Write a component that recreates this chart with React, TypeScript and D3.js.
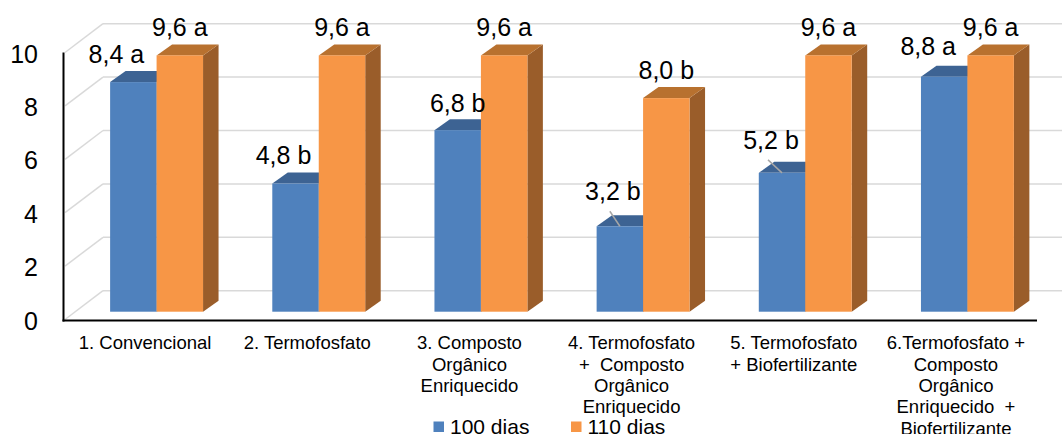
import React from "react";
import * as d3 from "d3";

const categories: string[][] = [
  ["1. Convencional"],
  ["2. Termofosfato"],
  ["3. Composto", "Orgânico", "Enriquecido"],
  ["4. Termofosfato", "+  Composto", "Orgânico", "Enriquecido"],
  ["5. Termofosfato", "+ Biofertilizante"],
  ["6.Termofosfato +", "Composto", "Orgânico", "Enriquecido  +", "Biofertilizante"],
];
const seriesNames = ["100 dias", "110 dias"];
const values100 = [8.6, 4.8, 6.8, 3.2, 5.2, 8.8];
const values110 = [9.6, 9.6, 9.6, 8.0, 9.6, 9.6];
const labels100 = ["8,4 a", "4,8 b", "6,8 b", "3,2 b", "5,2 b", "8,8 a"];
const labels110 = ["9,6 a", "9,6 a", "9,6 a", "8,0 b", "9,6 a", "9,6 a"];
const yTicks = [0, 2, 4, 6, 8, 10];

// layout-only nudges for the data labels of the first series (as placed in the original)
const label100Dx = [-17, -12, 0, -7, -11, -16];
const label100Gap = [8, 9, 7, 15, 13, 11];
const label100Leader = [false, false, false, true, true, false];

const W = 1062;
const H = 434;
const FONT = "'Liberation Sans', Arial, sans-serif";

const colors = {
  front: ["#4F81BD", "#F79646"],
  top: ["#3D6393", "#B8712F"],
  side: ["#3A5E8C", "#9A5D2A"],
};

export default function App() {
  const xL = 64;
  const xR = 1037;
  const baseFront = 320.5; // front plane y of 0
  const barOff = { dx: 11.5, dy: -8.8 }; // bar front face offset from front plane
  const depth = { dx: 15.5, dy: -11 }; // bar depth
  const wallOff = { dx: 39, dy: -29.8 }; // back wall offset

  const x0 = d3
    .scaleBand<number>()
    .domain(d3.range(categories.length))
    .range([xL, xR])
    .paddingInner(0.427)
    .paddingOuter(0.2135);
  const x1 = d3.scaleBand<number>().domain([0, 1]).range([0, x0.bandwidth()]);
  const band = d3.scaleBand<number>().domain(d3.range(categories.length)).range([xL, xR]);
  const h = d3.scaleLinear().domain([0, 10]).range([0, 267]);

  const yFront = (v: number) => baseFront - h(v);
  const yWall = (v: number) => baseFront + wallOff.dy - h(v);
  const yBar = (v: number) => baseFront + barOff.dy - h(v);

  const series = [values100, values110];

  const bars: React.ReactNode[] = [];
  categories.forEach((_, ci) => {
    series.forEach((vals, si) => {
      const v = vals[ci];
      const x = (x0(ci) as number) + (x1(si) as number) + barOff.dx;
      const w = x1.bandwidth();
      const yT = yBar(v);
      const yB = yBar(0);
      const top = `M${x},${yT}L${x + w},${yT}L${x + w + depth.dx},${yT + depth.dy}L${x + depth.dx},${yT + depth.dy}Z`;
      const side = `M${x + w},${yT}L${x + w + depth.dx},${yT + depth.dy}L${x + w + depth.dx},${yB + depth.dy}L${x + w},${yB}Z`;
      bars.push(
        <g key={`b${ci}-${si}`}>
          <path d={side} fill={colors.side[si]} />
          <path d={top} fill={colors.top[si]} />
          <rect x={x} y={yT} width={w} height={yB - yT} fill={colors.front[si]} />
        </g>
      );
    });
  });

  const labels: React.ReactNode[] = [];
  categories.forEach((_, ci) => {
    const w = x1.bandwidth();
    // series 100
    {
      const v = values100[ci];
      const cx = (x0(ci) as number) + (x1(0) as number) + barOff.dx + w / 2;
      const backTop = yBar(v) + depth.dy;
      const lx = cx + label100Dx[ci];
      const by = backTop - label100Gap[ci];
      labels.push(
        <text key={`l0-${ci}`} x={lx} y={by} textAnchor="middle" fontSize={25} fontFamily={FONT} fill="#000">
          {labels100[ci]}
        </text>
      );
      if (label100Leader[ci]) {
        labels.push(
          <line key={`ld-${ci}`} x1={lx - 3} y1={by + 11} x2={cx} y2={yBar(v)} stroke="#A6A6A6" strokeWidth={1.5} />
        );
      }
    }
    {
      const v = values110[ci];
      const cx = (x0(ci) as number) + (x1(1) as number) + barOff.dx + w / 2;
      const backTop = yBar(v) + depth.dy;
      labels.push(
        <text key={`l1-${ci}`} x={cx} y={backTop - 8} textAnchor="middle" fontSize={25} fontFamily={FONT} fill="#000">
          {labels110[ci]}
        </text>
      );
    }
  });

  return (
    <svg
      width={W}
      height={H}
      style={{ position: "absolute", left: 0, top: 0, background: "#fff" }}
      xmlSpace="preserve"
    >
      <rect x={0} y={0} width={W} height={H} fill="#fff" />
      {/* back wall gridlines and left wall diagonals */}
      {yTicks.map((t) => (
        <g key={`g${t}`}>
          <line x1={xL + wallOff.dx} x2={W + 20} y1={yWall(t)} y2={yWall(t)} stroke="#D9D9D9" strokeWidth={1.5} />
          <line x1={xL + 1} y1={yFront(t) - 1} x2={xL + wallOff.dx} y2={yWall(t)} stroke="#D9D9D9" strokeWidth={1.5} />
        </g>
      ))}
      {bars}
      {/* axes */}
      <line x1={xL - 0.5} x2={xL - 0.5} y1={yFront(10) - 1} y2={baseFront + 1} stroke="#000" strokeWidth={2} />
      <line x1={xL - 1.5} x2={xR} y1={baseFront} y2={baseFront} stroke="#000" strokeWidth={2} />
      {yTicks.map((t) => (
        <text key={`t${t}`} x={38} y={yFront(t) + 9} textAnchor="end" fontSize={25} fontFamily={FONT} fill="#000">
          {t}
        </text>
      ))}
      {labels}
      {/* category labels */}
      {categories.map((lines, ci) => (
        <text
          key={`c${ci}`}
          textAnchor="middle"
          fontSize={18.5}
          fontFamily={FONT}
          fill="#000"
          style={{ whiteSpace: "pre" }}
        >
          {lines.map((ln, li) => (
            <tspan key={li} x={(band(ci) as number) + band.bandwidth() / 2} y={349.3 + li * 21.3}>
              {ln}
            </tspan>
          ))}
        </text>
      ))}
      {/* legend */}
      {seriesNames.map((name, si) => {
        const lx = si === 0 ? 433.5 : 571;
        return (
          <g key={`lg${si}`}>
            <rect x={lx} y={421.5} width={10.5} height={10.5} fill={colors.front[si]} />
            <text x={lx + 16.5} y={433.5} fontSize={21} fontFamily={FONT} fill="#000">
              {name}
            </text>
          </g>
        );
      })}
    </svg>
  );
}
